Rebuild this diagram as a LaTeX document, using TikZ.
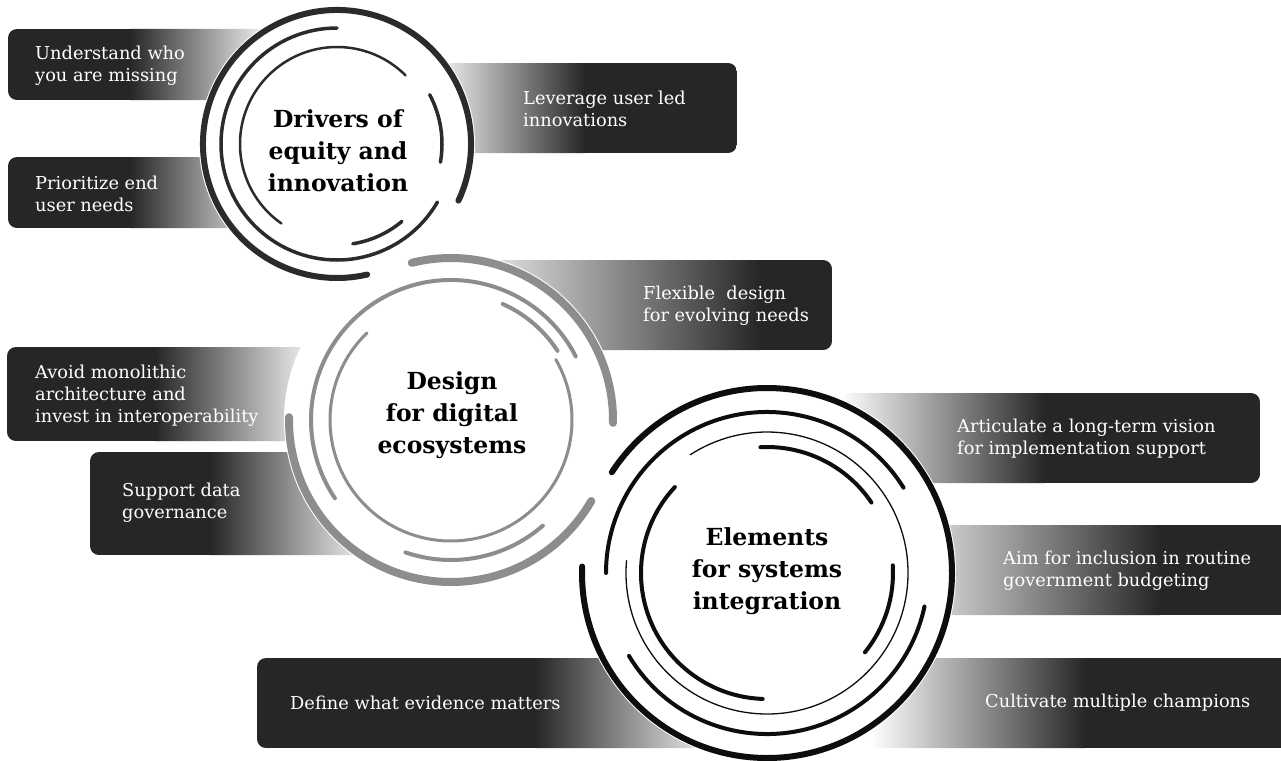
\documentclass[tikz,border=0pt]{standalone}
\usepackage{fontspec}
\setmainfont{DejaVu Serif}
\usetikzlibrary{positioning}

\definecolor{boxdark}{HTML}{262626}
\definecolor{ringone}{HTML}{2B2B2B}
\definecolor{ringtwo}{HTML}{8D8D8D}
\definecolor{ringthree}{HTML}{0D0D0D}

\begin{document}
\begin{tikzpicture}[x=1pt,y=-1pt,
		boxtext/.style={anchor=west,align=left,text=white,inner sep=0pt,font=\fontsize{17.8}{22}\selectfont},
		title/.style={align=center,inner sep=0pt,font=\fontsize{23.5}{32}\selectfont\bfseries},
		disk/.style={fill=white},
		ring/.style={line cap=round,line width=#1}]
	\useasboundingbox (0,0) rectangle (1281,760);

	\coordinate (c1) at (337,144);
	\coordinate (c2) at (451,420);
	\coordinate (c3) at (767,573);

	% boxes, dark on the left
	\foreach \xa/\ya/\xb/\xc/\yb in {8/29/130/275/100, 8/157/130/275/228, 7/347/155/320/441, 90/452/210/375/555, 257/658/535/725/748}
	{
		\begin{scope}
			\clip[rounded corners=9] (\xa,\ya) rectangle (\xc,\yb);
			\fill[boxdark] (\xa,\ya) rectangle (\xb+1,\yb);
			\shade[left color=boxdark,right color=white] (\xb,\ya) rectangle (\xc,\yb);
		\end{scope}
	}
	% boxes, dark on the right
	\foreach \xa/\ya/\xb/\xc/\yb in {430/63/585/737/153, 450/260/760/832/350, 840/393/1045/1260/483, 880/525/1160/1295/615, 870/658/1085/1295/748}
	{
		\begin{scope}
			\clip[rounded corners=9] (\xa,\ya) rectangle (\xc,\yb);
			\shade[left color=white,right color=boxdark] (\xa,\ya) rectangle (\xb,\yb);
			\fill[boxdark] (\xb-1,\ya) rectangle (\xc,\yb);
		\end{scope}
	}

	% circles
	\fill[disk] (c1) circle[radius=138];
	\fill[disk] (c2) circle[radius=167];
	\fill[disk] (c3) circle[radius=189];

	\foreach \rad/\a/\b/\w in {134/25/-283/6, 116/-90/-330/3.5, 97/-45/-235/2.5, 105/10/-28/3.5, 101/81/50/3.5}
		\draw[ringone,ring=\w] ([shift={(\a:\rad)}]c1) arc[start angle=\a,end angle=\b,radius=\rad];
	\foreach \rad/\a/\b/\w in {162/1/-104/8, 162/-179/-330/8, 140/-27/-214/4, 127/-33/-66/4, 121/-134/-390/3, 140/-251/-311/4}
		\draw[ringtwo,ring=\w] ([shift={(\a:\rad)}]c2) arc[start angle=\a,end angle=\b,radius=\rad];
	\foreach \rad/\a/\b/\w in {185/182/-147/6, 161/-32/-180/4, 161/-211/-348/4, 141/-175/-483/1.3, 126/-34/-93/4, 126/-137/-268/4, 126/39/-3.5/4}
		\draw[ringthree,ring=\w] ([shift={(\a:\rad)}]c3) arc[start angle=\a,end angle=\b,radius=\rad];

	\node[title] (drivers)  at (338,151) {Drivers of\\equity and\\innovation};
	\node[title] (design)   at (452,415) {Design\\for digital\\ecosystems};
	\node[title] (elements) at (767,571) {Elements\\for systems\\integration};

	\node[boxtext] (missing)    at (35,66)   {Understand who\\you are missing};
	\node[boxtext] (enduser)    at (35,194)  {Prioritize end\\user needs};
	\node[boxtext] (leverage)   at (523,109) {Leverage user led\\innovations};
	\node[boxtext] (flexible)   at (643,306) {Flexible~ design\\for evolving needs};
	\node[boxtext] (monolith)   at (35,396)  {Avoid monolithic\\architecture and\\invest in interoperability};
	\node[boxtext] (governance) at (122,503) {Support data\\governance};
	\node[boxtext] (vision)     at (957,439) {Articulate a long-term vision\\for implementation support};
	\node[boxtext] (budget)     at (1003,571) {Aim for inclusion in routine\\government budgeting};
	\node[boxtext] (evidence)   at (290,703) {Define what evidence matters};
	\node[boxtext] (champions)  at (985,703) {Cultivate multiple champions};
\end{tikzpicture}
\end{document}
